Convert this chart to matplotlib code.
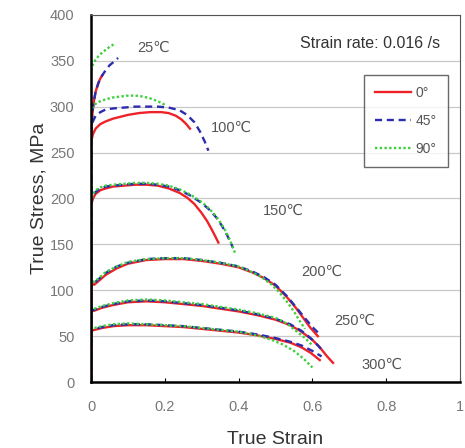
import matplotlib.pyplot as plt
import numpy as np

plt.rcParams['font.family'] = ['Liberation Sans', 'DejaVu Sans']

# true strain / true stress (MPa) curves, orientation 0, 45, 90 deg, per temperature
s25_0 = [0, 0, 0.003, 0.007, 0.012, 0.018, 0.024, 0.03]
t25_0 = [0, 262, 290, 305, 316, 324, 330, 334]
s25_45 = [0, 0, 0.005, 0.012, 0.02, 0.03, 0.04, 0.05, 0.062, 0.073]
t25_45 = [0, 275, 300, 316, 326, 334, 340, 345, 349, 353]
s25_90 = [0, 0, 0.005, 0.012, 0.02, 0.03, 0.04, 0.05, 0.058, 0.065]
t25_90 = [0, 338, 346, 351, 355, 359, 362, 365, 367, 369]

s100_0 = [0, 0, 0.005, 0.012, 0.025, 0.04, 0.06, 0.08, 0.1, 0.13, 0.16, 0.19, 0.21, 0.23, 0.245, 0.258, 0.268]
t100_0 = [0, 262, 270, 276, 281, 284, 287, 289, 291, 293, 294, 294, 293, 290, 286, 281, 276]
s100_45 = [0, 0, 0.005, 0.012, 0.025, 0.04, 0.06, 0.09, 0.12, 0.15, 0.18, 0.21, 0.24, 0.26, 0.28, 0.295, 0.308, 0.318]
t100_45 = [0, 276, 284, 290, 294, 297, 298, 299, 300, 300, 300, 299, 296, 291, 283, 273, 262, 252]
s100_90 = [0, 0, 0.005, 0.012, 0.025, 0.04, 0.06, 0.08, 0.1, 0.12, 0.14, 0.16, 0.18, 0.2]
t100_90 = [0, 296, 300, 303, 306, 308, 310, 311, 312, 312, 311, 309, 306, 302]

s150_0 = [0, 0, 0.005, 0.012, 0.025, 0.04, 0.06, 0.09, 0.12, 0.15, 0.18, 0.21, 0.24, 0.26, 0.28, 0.3, 0.315, 0.33, 0.345]
t150_0 = [0, 193, 200, 205, 209, 211, 213, 214, 215, 215, 214, 211, 206, 201, 194, 184, 175, 164, 152]
s150_45 = [0, 0, 0.005, 0.012, 0.025, 0.04, 0.06, 0.09, 0.12, 0.15, 0.18, 0.21, 0.24, 0.27, 0.3, 0.32, 0.34, 0.355, 0.37, 0.385]
t150_45 = [0, 196, 203, 207, 211, 213, 214, 215, 216, 216, 215, 213, 209, 203, 195, 188, 179, 170, 159, 146]
s150_90 = [0, 0, 0.005, 0.012, 0.025, 0.04, 0.06, 0.09, 0.12, 0.15, 0.18, 0.21, 0.24, 0.27, 0.3, 0.32, 0.34, 0.36, 0.375, 0.39]
t150_90 = [0, 198, 205, 209, 212, 214, 215, 216, 217, 217, 216, 214, 210, 204, 196, 189, 180, 168, 156, 141]

s200_0 = [0, 0, 0.008, 0.02, 0.04, 0.07, 0.1, 0.15, 0.2, 0.25, 0.3, 0.35, 0.4, 0.44, 0.47, 0.5, 0.53, 0.555, 0.575, 0.595, 0.615]
t200_0 = [0, 108, 106, 110, 117, 124, 129, 133, 134, 134, 132, 129, 125, 119, 113, 105, 93, 81, 70, 59, 50]
s200_45 = [0, 0, 0.008, 0.02, 0.04, 0.07, 0.1, 0.15, 0.2, 0.25, 0.3, 0.35, 0.4, 0.44, 0.47, 0.5, 0.53, 0.555, 0.575, 0.6, 0.62]
t200_45 = [0, 110, 108, 112, 119, 126, 130, 134, 135, 135, 133, 130, 126, 120, 114, 106, 94, 82, 72, 60, 52]
s200_90 = [0, 0, 0.008, 0.02, 0.04, 0.07, 0.1, 0.15, 0.2, 0.25, 0.3, 0.35, 0.4, 0.43, 0.46, 0.49, 0.51, 0.53, 0.55, 0.565, 0.58]
t200_90 = [0, 111, 109, 113, 120, 126, 131, 134, 135, 135, 133, 130, 126, 121, 115, 106, 98, 88, 77, 67, 58]

s250_0 = [0, 0, 0.01, 0.03, 0.06, 0.1, 0.15, 0.2, 0.25, 0.3, 0.35, 0.4, 0.45, 0.5, 0.54, 0.57, 0.6, 0.62, 0.64, 0.656]
t250_0 = [0, 77, 78, 81, 84, 87, 88, 87, 85, 83, 80, 77, 73, 68, 62, 55, 46, 38, 28, 21]
s250_45 = [0, 0, 0.01, 0.03, 0.06, 0.1, 0.15, 0.2, 0.25, 0.3, 0.35, 0.4, 0.45, 0.5, 0.54, 0.57, 0.595, 0.615, 0.63]
t250_45 = [0, 78, 79, 82, 85, 88, 89, 88, 86, 84, 81, 78, 74, 69, 63, 56, 48, 40, 33]
s250_90 = [0, 0, 0.01, 0.03, 0.06, 0.1, 0.15, 0.2, 0.25, 0.3, 0.35, 0.4, 0.45, 0.5, 0.53, 0.555, 0.58, 0.6]
t250_90 = [0, 79, 80, 83, 86, 89, 90, 89, 87, 85, 82, 79, 75, 70, 64, 56, 48, 40]

s300_0 = [0, 0, 0.01, 0.03, 0.06, 0.1, 0.15, 0.2, 0.25, 0.3, 0.35, 0.4, 0.45, 0.5, 0.54, 0.57, 0.595, 0.62]
t300_0 = [0, 56, 57, 59, 61, 62, 62, 61, 60, 58, 56, 54, 51, 47, 43, 38, 32, 24]
s300_45 = [0, 0, 0.01, 0.03, 0.06, 0.1, 0.15, 0.2, 0.25, 0.3, 0.35, 0.4, 0.45, 0.5, 0.54, 0.57, 0.6, 0.625]
t300_45 = [0, 57, 58, 60, 62, 63, 63, 62, 61, 59, 57, 55, 52, 48, 44, 40, 34, 28]
s300_90 = [0, 0, 0.01, 0.03, 0.06, 0.1, 0.15, 0.2, 0.25, 0.3, 0.35, 0.4, 0.45, 0.49, 0.52, 0.55, 0.575, 0.6]
t300_90 = [0, 58, 59, 61, 63, 64, 63, 62, 61, 59, 57, 55, 51, 46, 41, 34, 26, 16]

temp_labels = ['25℃', '100℃', '150℃', '200℃', '250℃', '300℃']
label_x = [0.17, 0.38, 0.52, 0.625, 0.715, 0.79]
label_y = [364, 277, 187, 120, 67, 19]

red = '#ee2228'
blue = '#2c2cb0'
green = '#3cd03c'

fig = plt.figure(figsize=(4.65, 4.48), dpi=100)
ax = fig.add_axes([0.196, 0.147, 0.793, 0.82])

curves = [
    (s25_0, t25_0, s25_45, t25_45, s25_90, t25_90),
    (s100_0, t100_0, s100_45, t100_45, s100_90, t100_90),
    (s150_0, t150_0, s150_45, t150_45, s150_90, t150_90),
    (s200_0, t200_0, s200_45, t200_45, s200_90, t200_90),
    (s250_0, t250_0, s250_45, t250_45, s250_90, t250_90),
    (s300_0, t300_0, s300_45, t300_45, s300_90, t300_90),
]

for i, (a0, b0, a45, b45, a90, b90) in enumerate(curves):
    ax.plot(a0, b0, color=red, lw=1.7, label='0°' if i == 0 else None)
    ax.plot(a45, b45, color=blue, lw=1.7, ls=(0, (3, 2)), label='45°' if i == 0 else None)
    ax.plot(a90, b90, color=green, lw=1.7, ls=(0, (1, 1)), label='90°' if i == 0 else None)

for txt, x, y in zip(temp_labels, label_x, label_y):
    ax.text(x, y, txt, fontsize=10.5, color='#555555', ha='center', va='center')

ax.text(0.946, 369, 'Strain rate: 0.016 /s', fontsize=11.5, color='#333333',
        ha='right', va='center')

ax.set_xlim(0, 1)
ax.set_ylim(0, 400)
ax.set_xticks(np.arange(0, 1.01, 0.2))
ax.set_xticklabels(['0', '0.2', '0.4', '0.6', '0.8', '1'])
ax.set_yticks(np.arange(0, 401, 50))
ax.yaxis.grid(True, color='#c8c8c8', lw=0.9)
ax.set_axisbelow(True)
ax.tick_params(axis='x', direction='in', length=3, labelsize=10.5, labelcolor='#777777', pad=13)
ax.tick_params(axis='y', length=0, labelsize=10.5, labelcolor='#777777', pad=12)

ax.spines['left'].set_linewidth(1.8)
ax.spines['bottom'].set_linewidth(1.8)
ax.spines['top'].set_color('#555555')
ax.spines['right'].set_color('#555555')

ax.set_xlabel('True Strain', fontsize=14, color='#333333', labelpad=12)
ax.set_ylabel('True Stress, MPa', fontsize=14, color='#333333', labelpad=2)

leg = ax.legend(loc='upper right', bbox_to_anchor=(0.967, 0.836), fontsize=10,
                frameon=True, fancybox=False, handlelength=2.6, labelspacing=1.0,
                borderpad=0.8, handletextpad=0.3, borderaxespad=0)
leg.get_frame().set_edgecolor('#444444')
leg.get_frame().set_linewidth(1.0)
for t in leg.get_texts():
    t.set_color('#555555')

fig.savefig('out.png', dpi=100)
